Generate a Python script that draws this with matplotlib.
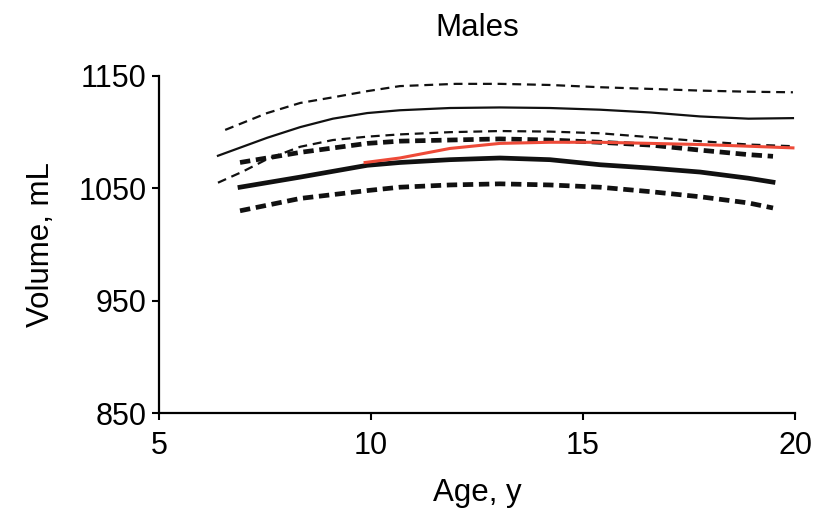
"""Males: brain volume by age, centile-style curves (recreated figure)."""

import matplotlib

matplotlib.use("Agg")
import matplotlib.pyplot as plt  # noqa: E402

# ---- data --------------------------------------------------------------------
upper_outer_age = [6.56, 7.55, 8.33, 9.10, 9.91, 10.68, 12.0, 13.04, 14.22, 15.40, 16.6, 17.76, 18.9, 19.95]
upper_outer_vol = [1102, 1117, 1126, 1131, 1136.5, 1141, 1143, 1143, 1142, 1140, 1138.5, 1137, 1136, 1135.5]

upper_mid_age = [6.39, 7.55, 8.33, 9.10, 9.91, 10.68, 11.86, 13.04, 14.22, 15.40, 16.6, 17.76, 18.9, 19.95]
upper_mid_vol = [1079, 1095, 1104.5, 1112, 1117, 1119.5, 1121.5, 1122, 1121.5, 1120, 1117.5, 1114, 1112, 1112.5]

upper_inner_age = [6.39, 6.98, 7.55, 8.33, 9.10, 9.91, 10.68, 11.86, 13.04, 14.22, 15.40, 16.6, 17.76, 18.9, 19.95]
upper_inner_vol = [1055, 1065, 1076, 1087, 1093, 1096, 1098, 1100, 1101, 1100.5, 1099, 1095.5, 1092, 1089, 1087.5]

ref_age = [6.91, 8.33, 9.91, 10.68, 11.86, 13.04, 14.22, 15.40, 16.6, 17.76, 18.9, 19.48]
ref_upper = [1073, 1082, 1090, 1092, 1093, 1094, 1093, 1091, 1088.5, 1084, 1080, 1078.5]
ref_mean = [1051, 1060, 1070.5, 1073, 1075.5, 1077, 1075.5, 1071, 1068, 1064.5, 1059, 1055.5]
ref_lower = [1030, 1041, 1048, 1051, 1053, 1054, 1053, 1051, 1047, 1042.5, 1037, 1032.5]

red_age = [9.86, 10.68, 11.86, 13.04, 14.22, 15.40, 16.6, 17.76, 18.9, 19.95]
red_vol = [1073, 1077, 1085.5, 1090, 1091, 1091, 1090, 1089, 1087.5, 1086]

x_ticks = [5, 10, 15, 20]
y_ticks = [850, 950, 1050, 1150]

plt.rcParams.update(
    {
        "font.family": ["Liberation Sans", "DejaVu Sans"],
        "font.size": 22,
        "figure.facecolor": "white",
        "axes.facecolor": "white",
    }
)

fig = plt.figure(figsize=(8.21, 5.09), dpi=100)
ax = fig.add_axes([0.1937, 0.1886, 0.7747, 0.6621])

ax.plot(upper_outer_age, upper_outer_vol, color="#111111", lw=1.6, dashes=(4.0, 2.6))
ax.plot(upper_mid_age, upper_mid_vol, color="#111111", lw=1.6)
ax.plot(upper_inner_age, upper_inner_vol, color="#111111", lw=1.6, dashes=(4.0, 2.6))

ax.plot(ref_age, ref_upper, color="#111111", lw=3.4, dashes=(2.2, 1.2))
ax.plot(ref_age, ref_mean, color="#111111", lw=3.4)
ax.plot(ref_age, ref_lower, color="#111111", lw=3.4, dashes=(2.2, 1.2))

ax.plot(red_age, red_vol, color="#ee4a38", lw=2.2)

ax.set_xlim(5, 20)
ax.set_ylim(850, 1150)
ax.set_xticks(x_ticks)
ax.set_yticks(y_ticks)
for side in ("top", "right"):
    ax.spines[side].set_visible(False)
for side in ("left", "bottom"):
    ax.spines[side].set_linewidth(1.6)
ax.tick_params(direction="out", length=5, width=1.5, pad=4, labelsize=22)
ax.tick_params(axis="x", pad=8)

ax.set_title("Males", fontsize=22.5, pad=29)
ax.set_xlabel("Age, y", fontsize=22.5, labelpad=12)
ax.set_ylabel("Volume, mL", fontsize=22.5, labelpad=16)

fig.savefig("out.png", dpi=100)
